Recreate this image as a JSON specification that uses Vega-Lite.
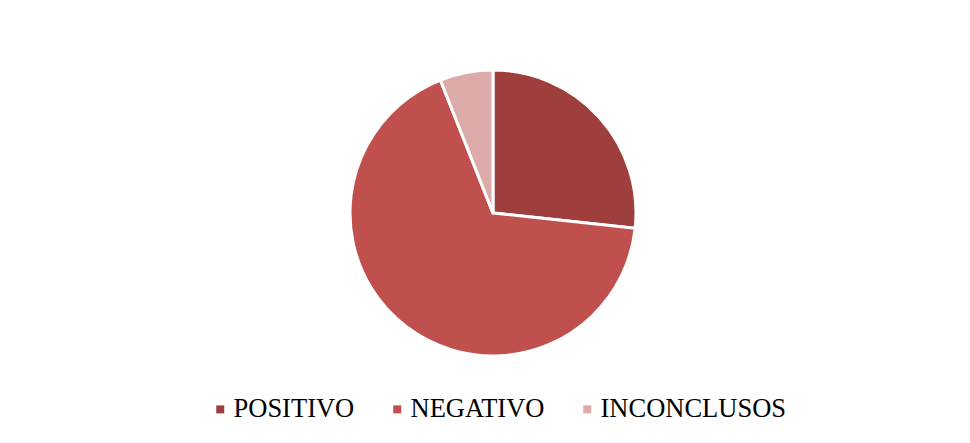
{
  "$schema": "https://vega.github.io/schema/vega-lite/v6.json",
  "width": 800,
  "height": 300,
  "padding": {"left": 93, "top": 63, "right": 77, "bottom": 80},
  "autosize": {"type": "none"},
  "background": "white",
  "data": {
    "values": [
      {"categoria": "POSITIVO", "valor": 26.7, "orden": 1},
      {"categoria": "NEGATIVO", "valor": 67.3, "orden": 2},
      {"categoria": "INCONCLUSOS", "valor": 6.0, "orden": 3}
    ]
  },
  "mark": {"type": "arc", "radius": 143, "stroke": "white", "strokeWidth": 3},
  "encoding": {
    "theta": {"field": "valor", "type": "quantitative", "stack": true},
    "order": {"field": "orden", "type": "quantitative"},
    "color": {
      "field": "categoria",
      "type": "nominal",
      "scale": {
        "domain": ["POSITIVO", "NEGATIVO", "INCONCLUSOS"],
        "range": ["#9E3F3D", "#C0504D", "#DCAAA9"]
      },
      "legend": {
        "title": null,
        "orient": "none",
        "direction": "horizontal",
        "legendX": 114,
        "legendY": 333,
        "symbolType": "square",
        "symbolSize": 64,
        "symbolStrokeWidth": 0,
        "labelFont": "Liberation Serif",
        "labelFontSize": 26.5,
        "labelColor": "#000000",
        "labelOffset": 0,
        "columnPadding": 29,
        "labelLimit": 400
      }
    }
  },
  "config": {"view": {"stroke": null}}
}
